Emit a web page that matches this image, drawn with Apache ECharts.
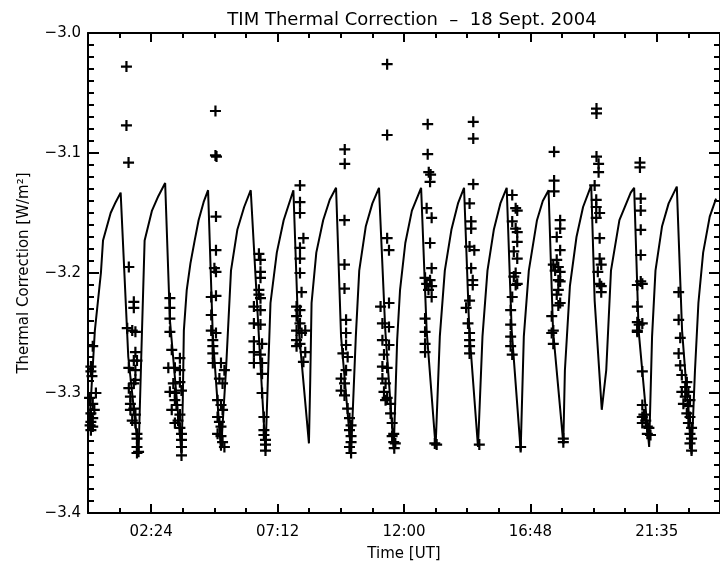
<!DOCTYPE html>
<html>
<head>
<meta charset="utf-8">
<title>TIM Thermal Correction</title>
<script src="https://cdn.jsdelivr.net/npm/echarts@6/dist/echarts.min.js"></script>
<style>
  html, body { margin: 0; padding: 0; background: #fff; }
  #chart { width: 720px; height: 570px; }
</style>
</head>
<body>
<div id="chart"></div>
<script>
// x axis: hours UT, y axis: thermal correction in W/m^2
const yTicks = [-3.4, -3.3, -3.2, -3.1, -3.0]
const xTickHours = [2.4, 7.2, 12, 16.8, 21.6]
const xTickLabels = ['02:24', '07:12', '12:00', '16:48', '21:35']
const xMinorHours = [1.2, 3.6, 4.8, 6.0, 8.4, 9.6, 10.8, 13.2, 14.4, 15.6, 18.0, 19.2, 20.4, 22.8]

// model curve, [hour, value], one saw-tooth per orbit
const modelCurve = [
  [0.04, -3.331], [0.26, -3.248], [0.49, -3.200], [0.57, -3.173], [0.86, -3.150], [1.05, -3.141], [1.24, -3.133],
  [1.53, -3.270], [1.92, -3.350],
  [2.03, -3.264], [2.15, -3.173], [2.43, -3.148], [2.67, -3.136], [2.93, -3.125],
  [3.11, -3.239], [3.55, -3.350],
  [3.60, -3.306], [3.64, -3.248], [3.75, -3.214], [3.89, -3.192], [4.05, -3.173], [4.20, -3.156], [4.39, -3.141], [4.56, -3.131],
  [4.74, -3.253], [5.05, -3.348],
  [5.24, -3.281], [5.43, -3.198], [5.67, -3.164], [5.93, -3.145], [6.18, -3.131],
  [6.49, -3.253], [6.74, -3.349],
  [6.83, -3.289], [6.93, -3.225], [7.17, -3.183], [7.43, -3.156], [7.80, -3.131],
  [7.97, -3.239], [8.39, -3.342],
  [8.44, -3.289], [8.49, -3.225], [8.67, -3.183], [8.93, -3.156], [9.18, -3.139], [9.42, -3.129],
  [9.61, -3.253], [9.99, -3.350],
  [10.17, -3.253], [10.30, -3.198], [10.55, -3.161], [10.80, -3.142], [11.05, -3.129],
  [11.29, -3.248], [11.61, -3.347],
  [11.74, -3.256], [11.85, -3.214], [12.05, -3.175], [12.30, -3.148], [12.65, -3.129],
  [12.86, -3.248], [13.20, -3.345],
  [13.36, -3.253], [13.55, -3.198], [13.80, -3.164], [14.05, -3.142], [14.28, -3.129],
  [14.48, -3.248], [14.81, -3.345],
  [14.98, -3.253], [15.17, -3.198], [15.41, -3.164], [15.66, -3.142], [15.90, -3.129],
  [16.09, -3.248], [16.43, -3.348],
  [16.55, -3.253], [16.74, -3.198], [17.05, -3.156], [17.27, -3.140], [17.49, -3.131],
  [17.66, -3.248], [18.05, -3.342],
  [18.11, -3.281], [18.30, -3.211], [18.55, -3.170], [18.80, -3.145], [19.11, -3.127],
  [19.24, -3.223], [19.51, -3.314],
  [19.68, -3.281], [19.86, -3.198], [20.18, -3.156], [20.61, -3.133], [20.74, -3.129],
  [20.91, -3.248], [21.31, -3.345],
  [21.42, -3.253], [21.55, -3.198], [21.80, -3.161], [22.05, -3.142], [22.36, -3.128],
  [22.56, -3.248], [22.92, -3.351],
  [23.05, -3.281], [23.18, -3.225], [23.36, -3.183], [23.61, -3.153], [23.85, -3.138]
]

// measured points ('+'), [hour, value]
const measured = [
  // pass 0
  [0.18, -3.261], [0.11, -3.278], [0.11, -3.282], [0.15, -3.286], [0.30, -3.300], [0.06, -3.304],
  [0.18, -3.309], [0.24, -3.314], [0.11, -3.317], [0.18, -3.321], [0.11, -3.324], [0.08, -3.327],
  [0.18, -3.328], [0.11, -3.331],
  // pass 1
  [1.46, -3.028], [1.46, -3.077], [1.54, -3.108], [1.55, -3.195], [1.74, -3.224], [1.74, -3.229],
  [1.49, -3.246], [1.68, -3.248], [1.80, -3.249], [1.80, -3.266], [1.74, -3.273], [1.86, -3.273],
  [1.55, -3.279], [1.80, -3.281], [1.80, -3.289], [1.74, -3.292], [1.55, -3.296], [1.61, -3.303],
  [1.61, -3.309], [1.74, -3.313], [1.61, -3.314], [1.80, -3.318], [1.68, -3.323], [1.80, -3.325],
  [1.86, -3.334], [1.86, -3.338], [1.86, -3.345], [1.92, -3.349], [1.86, -3.350],
  // pass 2
  [3.11, -3.221], [3.11, -3.229], [3.11, -3.238], [3.11, -3.249], [3.18, -3.264], [3.49, -3.271],
  [3.05, -3.279], [3.30, -3.279], [3.49, -3.281], [3.24, -3.292], [3.49, -3.291], [3.11, -3.299],
  [3.30, -3.300], [3.55, -3.298], [3.30, -3.306], [3.36, -3.310], [3.18, -3.314], [3.49, -3.318],
  [3.42, -3.323], [3.30, -3.325], [3.49, -3.329], [3.55, -3.334], [3.55, -3.339], [3.55, -3.345],
  [3.55, -3.352],
  // pass 3
  [4.84, -3.065], [4.84, -3.102], [4.88, -3.103], [4.86, -3.153], [4.86, -3.181], [4.80, -3.196],
  [4.86, -3.199], [4.68, -3.220], [4.86, -3.219], [4.68, -3.235], [4.68, -3.248], [4.86, -3.250],
  [4.74, -3.256], [4.74, -3.261], [4.74, -3.267], [4.74, -3.275], [5.05, -3.275], [5.18, -3.281],
  [4.99, -3.288], [5.11, -3.292], [4.92, -3.306], [5.05, -3.310], [5.11, -3.314], [4.92, -3.320],
  [4.99, -3.324], [5.05, -3.328], [4.92, -3.334], [5.05, -3.336], [5.11, -3.341], [5.18, -3.345],
  // pass 4
  [6.49, -3.184], [6.55, -3.189], [6.55, -3.199], [6.55, -3.204], [6.49, -3.214], [6.49, -3.218],
  [6.55, -3.221], [6.30, -3.228], [6.55, -3.231], [6.30, -3.242], [6.55, -3.243], [6.30, -3.257],
  [6.61, -3.259], [6.30, -3.266], [6.55, -3.268], [6.30, -3.275], [6.61, -3.275], [6.61, -3.284],
  [6.61, -3.300], [6.68, -3.320], [6.68, -3.331], [6.68, -3.335], [6.74, -3.339], [6.74, -3.343],
  [6.74, -3.348],
  // pass 5
  [8.05, -3.127], [8.05, -3.141], [8.05, -3.150], [8.18, -3.171], [8.05, -3.179], [8.05, -3.188],
  [8.05, -3.200], [8.11, -3.216], [7.92, -3.228], [8.05, -3.231], [7.92, -3.236], [8.05, -3.242],
  [7.92, -3.248], [8.11, -3.250], [7.92, -3.256], [8.05, -3.259], [7.92, -3.261], [8.18, -3.274],
  [8.25, -3.248], [8.25, -3.266],
  // pass 6
  [9.75, -3.097], [9.75, -3.109], [9.74, -3.156], [9.74, -3.193], [9.74, -3.213], [9.80, -3.239],
  [9.80, -3.250], [9.80, -3.260], [9.68, -3.267], [9.86, -3.270], [9.80, -3.281], [9.61, -3.288],
  [9.74, -3.292], [9.61, -3.298], [9.74, -3.302], [9.86, -3.313], [9.93, -3.321], [9.99, -3.327],
  [9.93, -3.331], [9.99, -3.336], [9.99, -3.341], [9.93, -3.345], [9.99, -3.350],
  // pass 7
  [11.36, -3.026], [11.36, -3.085], [11.36, -3.171], [11.43, -3.181], [11.43, -3.225], [11.11, -3.228],
  [11.18, -3.242], [11.43, -3.245], [11.18, -3.256], [11.43, -3.260], [11.24, -3.268], [11.18, -3.278],
  [11.36, -3.279], [11.18, -3.288], [11.30, -3.292], [11.24, -3.299], [11.36, -3.304], [11.30, -3.306],
  [11.49, -3.309], [11.49, -3.317], [11.55, -3.325], [11.61, -3.334], [11.55, -3.336], [11.61, -3.341],
  [11.67, -3.342], [11.63, -3.346],
  // pass 8
  [12.90, -3.076], [12.90, -3.101], [12.94, -3.116], [13.01, -3.118], [12.99, -3.124], [12.86, -3.146],
  [13.05, -3.154], [12.99, -3.175], [13.05, -3.196], [12.80, -3.204], [12.99, -3.206], [12.86, -3.209],
  [13.05, -3.211], [12.93, -3.214], [13.05, -3.220], [12.80, -3.238], [12.80, -3.249], [12.80, -3.259],
  [12.80, -3.266], [13.17, -3.342], [13.24, -3.343],
  // pass 9
  [14.63, -3.074], [14.63, -3.088], [14.63, -3.126], [14.49, -3.142], [14.55, -3.157], [14.55, -3.163],
  [14.49, -3.178], [14.67, -3.181], [14.55, -3.196], [14.61, -3.206], [14.61, -3.210], [14.49, -3.223],
  [14.36, -3.229], [14.43, -3.242], [14.49, -3.250], [14.49, -3.256], [14.49, -3.261], [14.49, -3.267],
  [14.86, -3.343],
  // pass 10
  [16.11, -3.135], [16.24, -3.146], [16.30, -3.148], [16.11, -3.157], [16.24, -3.163], [16.30, -3.166],
  [16.30, -3.174], [16.17, -3.182], [16.30, -3.188], [16.24, -3.200], [16.17, -3.203], [16.30, -3.209],
  [16.24, -3.210], [16.11, -3.220], [16.05, -3.231], [16.05, -3.243], [16.05, -3.253], [16.05, -3.261],
  [16.11, -3.268], [16.43, -3.345],
  // pass 11
  [17.70, -3.099], [17.70, -3.123], [17.70, -3.132], [17.93, -3.156], [17.93, -3.163], [17.80, -3.170],
  [17.93, -3.181], [17.80, -3.189], [17.67, -3.193], [17.86, -3.195], [17.74, -3.198], [17.93, -3.199],
  [17.86, -3.206], [17.93, -3.207], [17.86, -3.214], [17.80, -3.218], [17.93, -3.225], [17.86, -3.227],
  [17.61, -3.236], [17.67, -3.248], [17.61, -3.250], [17.67, -3.259], [18.05, -3.338], [18.05, -3.341],
  // pass 12
  [19.31, -3.063], [19.31, -3.067], [19.31, -3.103], [19.39, -3.109], [19.39, -3.116], [19.24, -3.127],
  [19.30, -3.139], [19.30, -3.145], [19.43, -3.150], [19.30, -3.154], [19.43, -3.171], [19.43, -3.188],
  [19.49, -3.193], [19.36, -3.199], [19.43, -3.209], [19.49, -3.211], [19.49, -3.216],
  // pass 13
  [20.96, -3.108], [20.96, -3.112], [20.99, -3.138], [20.99, -3.148], [20.99, -3.164], [20.99, -3.185],
  [20.99, -3.207], [20.86, -3.210], [21.05, -3.209], [20.86, -3.228], [20.86, -3.241], [20.93, -3.243],
  [21.05, -3.242], [20.86, -3.248], [20.86, -3.249], [21.05, -3.282], [21.05, -3.310], [21.11, -3.318],
  [21.05, -3.320], [21.18, -3.323], [21.05, -3.325], [21.24, -3.328], [21.30, -3.329], [21.24, -3.334],
  [21.36, -3.335],
  // pass 14
  [22.43, -3.216], [22.43, -3.239], [22.49, -3.254], [22.43, -3.267], [22.49, -3.277], [22.55, -3.285],
  [22.74, -3.291], [22.68, -3.295], [22.55, -3.299], [22.80, -3.299], [22.68, -3.303], [22.86, -3.306],
  [22.61, -3.309], [22.80, -3.311], [22.74, -3.317], [22.86, -3.320], [22.80, -3.325], [22.92, -3.329],
  [22.86, -3.334], [22.92, -3.338], [22.86, -3.342], [22.92, -3.348]
]

// minor y ticks every 0.01 between the labelled ones
const yMinorTicks = []
for (let k = 1; k < 40; k++) {
  if (k % 10 !== 0) yMinorTicks.push(Number((-3.4 + k * 0.01).toFixed(2)))
}

const font = 'DejaVu Sans'
const black = '#000'
const plusPath = 'path://M0,4 H4 V0 H6 V4 H10 V6 H6 V10 H4 V6 H0 Z'

// y axis on left or right; major ones carry the line, minor ones only short ticks
// onZero off, otherwise the right axis snaps onto x = 0 (the left edge)
function yAxisOf(position, major, withLabels) {
  return {
    type: 'value',
    position: position,
    min: yTicks[0],
    max: yTicks[yTicks.length - 1],
    axisLine: { show: major, onZero: false, lineStyle: { color: black, width: 2 } },
    axisTick: {
      show: true,
      inside: true,
      customValues: major ? yTicks : yMinorTicks,
      length: major ? 11 : 6,
      lineStyle: { color: black, width: 2 }
    },
    splitLine: { show: false },
    axisLabel: {
      show: withLabels,
      customValues: yTicks,
      margin: 7,
      color: black,
      fontSize: 15,
      fontFamily: font,
      formatter: v => v.toFixed(1).replace('-', '\u2212')
    },
    name: withLabels ? 'Thermal Correction [W/m\u00b2]' : '',
    nameLocation: 'middle',
    nameGap: 56,
    nameTextStyle: { color: black, fontSize: 15, fontFamily: font }
  }
}

// time axis: one for the major ticks (with labels), one for minor ticks
function xAxisOf(position, major, withLabels) {
  return {
    type: 'value',
    position: position,
    min: 0,
    max: 24,
    axisLine: { show: major, onZero: false, lineStyle: { color: black, width: 2 } },
    axisTick: {
      show: true,
      inside: true,
      customValues: major ? xTickHours : xMinorHours,
      length: major ? 9 : 5,
      lineStyle: { color: black, width: 2 }
    },
    splitLine: { show: false },
    axisLabel: {
      show: withLabels,
      customValues: xTickHours,
      margin: 12,
      color: black,
      fontSize: 15,
      fontFamily: font,
      formatter: v => {
        const i = xTickHours.findIndex(t => Math.abs(t - v) < 1e-6)
        return i >= 0 ? xTickLabels[i] : ''
      }
    },
    name: withLabels ? 'Time [UT]' : '',
    nameLocation: 'middle',
    nameGap: 34,
    nameTextStyle: { color: black, fontSize: 15, fontFamily: font }
  }
}

const chart = echarts.init(document.getElementById('chart'), null, { renderer: 'canvas' })

chart.setOption({
  animation: false,
  backgroundColor: '#fff',
  textStyle: { fontFamily: font },
  title: {
    text: 'TIM Thermal Correction  \u2013  18 Sept. 2004',
    left: 407,
    top: 6,
    textAlign: 'center',
    textStyle: { color: black, fontSize: 18, fontWeight: 'normal', fontFamily: font }
  },
  grid: { left: 88, right: -8, top: 33, bottom: 57, containLabel: false },
  xAxis: [
    xAxisOf('bottom', true, true),
    xAxisOf('bottom', false, false),
    xAxisOf('top', true, false),
    xAxisOf('top', false, false)
  ],
  yAxis: [
    yAxisOf('left', true, true),
    yAxisOf('left', false, false),
    yAxisOf('right', true, false),
    yAxisOf('right', false, false)
  ],
  series: [
    {
      name: 'model',
      type: 'line',
      xAxisIndex: 0,
      yAxisIndex: 0,
      data: modelCurve,
      showSymbol: false,
      lineStyle: { color: black, width: 2 },
      z: 2
    },
    {
      name: 'measured',
      type: 'scatter',
      xAxisIndex: 0,
      yAxisIndex: 0,
      data: measured,
      symbol: plusPath,
      symbolSize: 11,
      itemStyle: { color: black, opacity: 1 },
      z: 3
    }
  ]
})
</script>
</body>
</html>
